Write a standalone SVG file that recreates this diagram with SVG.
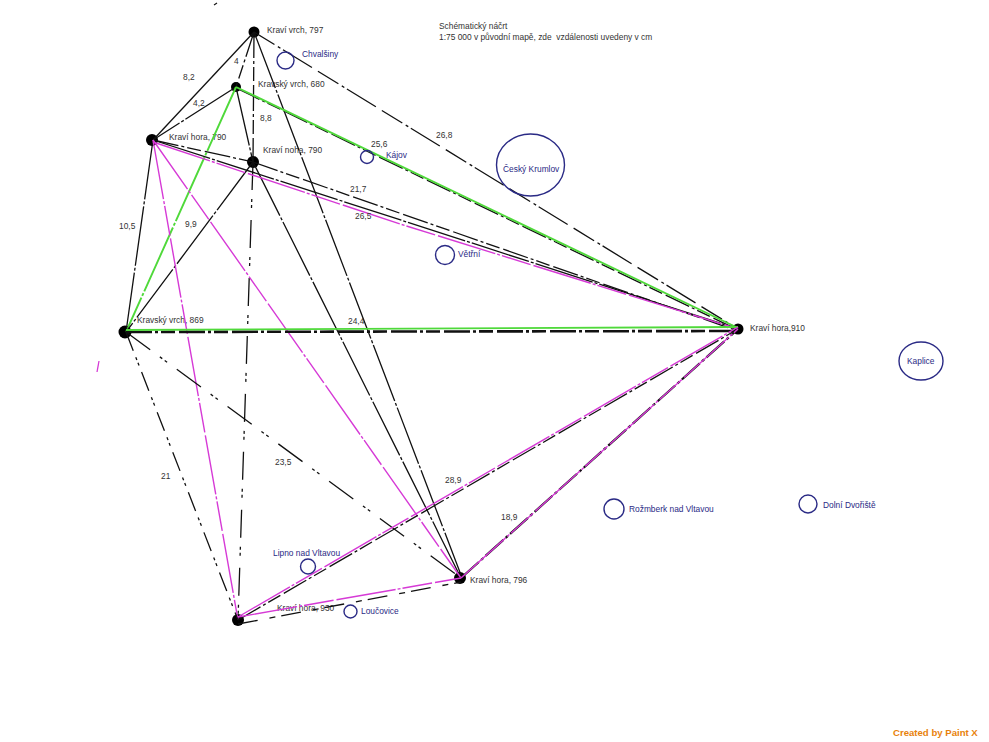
<svg xmlns="http://www.w3.org/2000/svg" width="989" height="742" viewBox="0 0 989 742">
<style>
.k{stroke:#111;stroke-width:1.3;fill:none}
.s{stroke-dasharray:60 2 3 2}
.d{stroke-dasharray:26 3 3 3 14 4}
.e{stroke-dasharray:24 4 3 3 34 7}
.g{stroke:#4fd93a;stroke-width:1.9;fill:none}
.m{stroke:#d63ad6;stroke-width:1.4;fill:none;stroke-dasharray:60 2 3 2 30 3}
.n{fill:#000}
.c{fill:none;stroke:#2a2a85;stroke-width:1.4}
text{font-family:"Liberation Sans",Arial,sans-serif;font-size:8.4px;fill:#333;white-space:pre}
.b{fill:#2a2a85}
</style>
<rect width="989" height="742" fill="#fff"/>
<g id="n1"><circle class="n" cx="254" cy="32" r="5.500"/><text x="267" y="33">Kraví vrch, 797</text></g>
<g id="n2"><circle class="n" cx="236" cy="87" r="5"/><text x="258" y="87">Kravský vrch, 680</text></g>
<g id="n3"><circle class="n" cx="152" cy="140" r="6"/><text x="169" y="140">Kraví hora, 790</text></g>
<g id="n4"><circle class="n" cx="253" cy="162" r="6"/><text x="263" y="153">Kraví noha, 790</text></g>
<g id="n5"><circle class="n" cx="125" cy="332" r="6.500"/><text x="137" y="323">Kravský vrch, 869</text></g>
<g id="n6"><circle class="n" cx="738" cy="329" r="5.500"/><text x="750" y="331">Kraví hora,910</text></g>
<g id="n7"><circle class="n" cx="238" cy="620" r="6"/><text x="277" y="611">Kraví hora, 930</text></g>
<g id="n8"><circle class="n" cx="460" cy="578" r="6"/><text x="470" y="583">Kraví hora, 796</text></g>
<g id="connectors">
<line class="k" x1="254" y1="32" x2="153" y2="140"/>
<line class="k d" x1="254" y1="32" x2="236" y2="87"/>
<line class="k d" x1="254" y1="32" x2="253" y2="162"/>
<line class="k s" x1="254" y1="32" x2="461" y2="575"/>
<line class="k e" x1="254" y1="32" x2="738" y2="329"/>
<line class="k s" x1="236" y1="87" x2="153" y2="140"/>
<line class="k s" x1="236" y1="87" x2="253" y2="162"/>
<line class="k d" x1="236" y1="88" x2="738" y2="330"/>
<line class="g" x1="236" y1="87" x2="738" y2="328"/>
<line class="g" x1="236" y1="87" x2="126" y2="332" stroke-dasharray="70 2 3 2"/>
<line class="k d" x1="153" y1="140" x2="253" y2="162"/>
<line class="k s" x1="153" y1="140" x2="738" y2="329"/>
<line class="k d" x1="253" y1="162" x2="738" y2="331"/>
<line class="k s" x1="153" y1="140" x2="126" y2="332"/>
<line class="k s" x1="253" y1="162" x2="126" y2="332"/>
<line class="k s" x1="253" y1="162" x2="461" y2="578"/>
<line class="k" x1="253" y1="162" x2="238" y2="620" stroke-dasharray="28 9 3 3 3 12"/>
<polyline class="m" points="153,142 400,224 738,329"/>
<line class="m" x1="153" y1="140" x2="461" y2="578"/>
<line class="m" x1="153" y1="140" x2="238" y2="620"/>
<line class="k d" x1="126" y1="332" x2="738" y2="331" style="stroke-width:2.6"/>
<line class="g" x1="126" y1="330" x2="738" y2="327"/>
<line class="k" x1="126" y1="332" x2="238" y2="620" stroke-dasharray="20 7 3 3 3 7"/>
<line class="k" x1="126" y1="332" x2="461" y2="578" stroke-dasharray="30 12 3 3 3 12"/>
<line class="k d" x1="238" y1="620" x2="738" y2="329"/>
<line class="m" x1="238" y1="617" x2="738" y2="327"/>
<line class="k" x1="461" y1="578" x2="738" y2="329" style="stroke-width:2.2" stroke-dasharray="24 3 3 3"/>
<line class="m" x1="461" y1="578" x2="738" y2="329"/>
<line class="k" x1="238" y1="624" x2="461" y2="582" stroke-dasharray="20 12 6 6"/>
<line class="m" x1="238" y1="617" x2="461" y2="578"/>
<line x1="99" y1="361" x2="97" y2="372" stroke="#d63ad6" stroke-width="1.3"/>
<line x1="214" y1="5" x2="217" y2="3" stroke="#111" stroke-width="1.2"/>
</g>
<g id="edge-labels">
<text x="183" y="80">8,2</text><text x="234" y="64">4</text><text x="193" y="106">4,2</text><text x="260" y="121">8,8</text>
<text x="119" y="229">10,5</text><text x="185" y="227">9,9</text><text x="371" y="147">25,6</text><text x="436" y="138">26,8</text>
<text x="350" y="192">21,7</text><text x="355" y="219">26,5</text><text x="348" y="324">24,4</text><text x="161" y="479">21</text>
<text x="275" y="465">23,5</text><text x="445" y="483">28,9</text><text x="501" y="520">18,9</text>
</g>
<g id="title"><text x="439" y="29">Schématický náčrt</text><text x="439" y="40">1:75 000 v původní mapě, zde  vzdálenosti uvedeny v cm</text></g>
<g id="chvalsiny"><circle class="c" cx="285.500" cy="60.500" r="8.500"/><text class="b" x="302" y="57">Chvalšiny</text></g>
<g id="kajov"><circle class="c" cx="367" cy="157" r="6.500"/><text class="b" x="386" y="158">Kájov</text></g>
<g id="krumlov"><ellipse class="c" cx="530.500" cy="165" rx="34" ry="31"/><text class="b" x="503" y="172">Český Krumlov</text></g>
<g id="vetrni"><circle class="c" cx="445" cy="255" r="9.500"/><text class="b" x="458" y="257">Větřní</text></g>
<g id="kaplice"><ellipse class="c" cx="921" cy="361" rx="22" ry="19"/><text class="b" x="907" y="364">Kaplice</text></g>
<g id="rozmberk"><circle class="c" cx="614" cy="509" r="10"/><text class="b" x="629" y="512">Rožmberk nad Vltavou</text></g>
<g id="dolni"><circle class="c" cx="808" cy="504" r="9"/><text class="b" x="823" y="508">Dolní Dvořiště</text></g>
<g id="lipno"><circle class="c" cx="308" cy="566.500" r="7.500"/><text class="b" x="273" y="556">Lipno nad Vltavou</text></g>
<g id="loucovice"><circle class="c" cx="350.500" cy="611.500" r="6.500"/><text class="b" x="361" y="614">Loučovice</text></g>
<text x="893" y="736" style="font-size:9.600px;font-weight:bold;fill:#e8820c">Created by Paint X</text>
</svg>
